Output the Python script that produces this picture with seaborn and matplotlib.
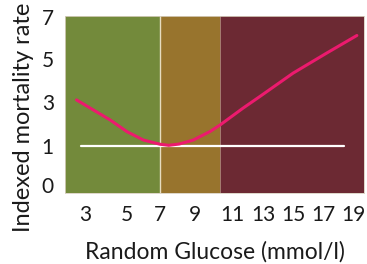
import numpy as np
import pandas as pd
import matplotlib
matplotlib.use('Agg')
import matplotlib.pyplot as plt
import seaborn as sns

# data
glucose = [2.6, 4.2, 5.0, 6.0, 7.0, 7.5, 8.1, 8.9, 9.8, 10.35, 11.7, 12.8, 15.0, 17.25, 19.25]
mortality = [3.09, 2.18, 1.65, 1.27, 1.08, 1.03, 1.09, 1.27, 1.65, 1.95, 2.71, 3.25, 4.33, 5.27, 6.10]
ref_x = [2.8, 18.4]
ref_y = [1, 1]
x_ticks = [3, 5, 7, 9, 11, 13, 15, 17, 19]
y_ticks = [0, 1, 3, 5, 7]
bands = [(2.05, 7.0, '#738a3b'), (7.0, 10.35, '#98742d'), (10.35, 19.73, '#6c2933')]

# the axes in the picture are not evenly spaced, so map ticks to where they sit
x_knots = [1, 3, 5, 7, 9, 11, 13, 15, 17, 19, 21]
x_pix = [43, 85, 127, 160, 195, 232, 263, 293, 323, 353, 383]
y_knots = [-1, 0, 1, 3, 5, 7, 8]
y_pix = [-31, 8, 47, 91, 134, 176, 197]

sns.set_theme(style='white')
plt.rcParams['font.family'] = ['Lato', 'DejaVu Sans']

fig = plt.figure(figsize=(3.67, 2.64), dpi=100)
ax = fig.add_axes([0.177, 0.269, 0.815, 0.670])

ax.set_xscale('function', functions=(lambda v: np.interp(v, x_knots, x_pix),
                                     lambda p: np.interp(p, x_pix, x_knots)))
ax.set_yscale('function', functions=(lambda v: np.interp(v, y_knots, y_pix),
                                     lambda p: np.interp(p, y_pix, y_knots)))

for lo, hi, c in bands:
    ax.axvspan(lo, hi, color=c, lw=0)
ax.axvline(7.0, color='#e6dcc0', lw=1)
ax.axvline(10.35, color='#b08a7a', lw=0.6)

df = pd.DataFrame({'glucose': glucose, 'mortality': mortality})
ref = pd.DataFrame({'x': ref_x, 'y': ref_y})
sns.lineplot(data=ref, x='x', y='y', color='white', lw=1.6, ax=ax)
sns.lineplot(data=df, x='glucose', y='mortality', color='#ec1a6e', lw=2.2, ax=ax)

ax.set_xlim(2.05, 19.73)
ax.set_ylim(-0.2, 7.02)
ax.set_xticks(x_ticks)
ax.set_yticks(y_ticks)
ax.tick_params(length=0, labelsize=15, colors='#1a1a1a')
ax.tick_params(axis='x', pad=9)
ax.tick_params(axis='y', pad=8)
ax.set_xlabel('Random Glucose (mmol/l)', fontsize=16.5, color='#1a1a1a', labelpad=11)
ax.set_ylabel('Indexed mortality rate', fontsize=17, color='#1a1a1a')
ax.yaxis.set_label_coords(-0.105, 0.425)
for s in ax.spines.values():
    s.set_color('#d8d0c0')
    s.set_linewidth(0.6)

fig.savefig('out.png', dpi=100)
